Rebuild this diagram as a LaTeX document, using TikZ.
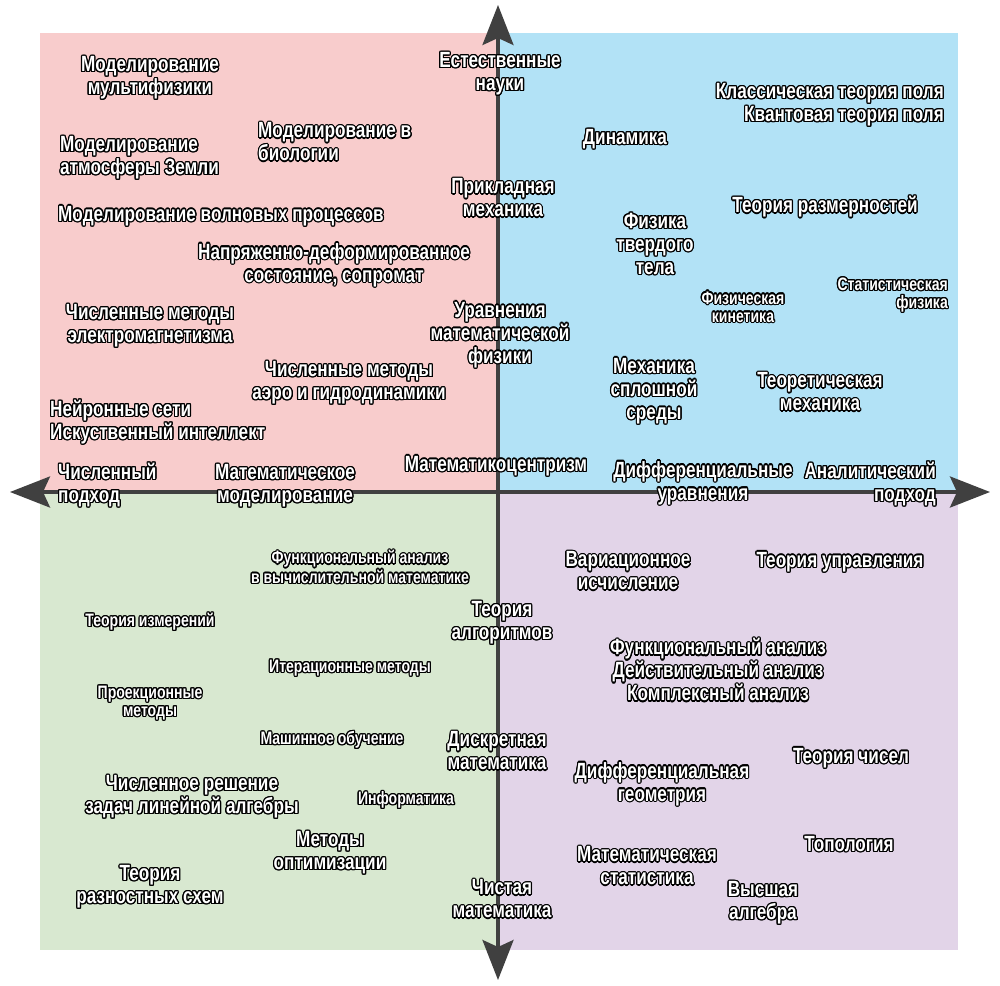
\documentclass[tikz,border=0pt]{standalone}
\usepackage{fontspec}
\newfontfamily\impf[FakeStretch=0.78]{Liberation Sans}
\usepackage{contour}
\contourlength{1.2pt}
\usetikzlibrary{arrows.meta}
\definecolor{qpink}{RGB}{248,204,204}
\definecolor{qblue}{RGB}{178,226,246}
\definecolor{qgreen}{RGB}{216,232,208}
\definecolor{qlav}{RGB}{226,212,232}
\definecolor{axisc}{RGB}{64,64,64}
\newcommand\olt[1]{\contour{black}{#1}}
\tikzset{
  lbl/.style={font=\impf\bfseries\fontsize{22}{23}\selectfont, text=white, inner sep=0pt, align=center, yshift=-2.5pt},
  sml/.style={lbl, font=\impf\bfseries\fontsize{18}{18}\selectfont},
  axisline/.style={draw=axisc, line width=3.5pt, -{Stealth[length=40pt,width=31pt,inset=7pt]}}
}
\begin{document}
\begin{tikzpicture}[x=1pt,y=-1pt]
\useasboundingbox (0,0) rectangle (1000,985);
\fill[white] (0,0) rectangle (1000,985);
\fill[qpink] (40,33) rectangle (498,492);
\fill[qblue] (498,33) rectangle (958,492);
\fill[qgreen] (40,492) rectangle (498,950);
\fill[qlav] (498,492) rectangle (958,950);
\coordinate (c) at (498,492);
\coordinate (top) at (498,5);
\coordinate (bot) at (498,980);
\coordinate (lft) at (10,492);
\coordinate (rgt) at (990,492);
\draw[axisline] (c) -- (top);
\draw[axisline] (c) -- (bot);
\draw[axisline] (c) -- (lft);
\draw[axisline] (c) -- (rgt);
% top-left
\node[lbl] (n1) at (150,76) {\olt{Моделирование}\\\olt{мультифизики}};
\node[lbl, anchor=west, align=left] (n2) at (60,156) {\olt{Моделирование}\\\olt{атмосферы Земли}};
\node[lbl, anchor=west, align=left] (n3) at (258,140) {\olt{Моделирование в}\\\olt{биологии}};
\node[lbl, anchor=west] (n4) at (58,214) {\olt{Моделирование волновых процессов}};
\node[lbl] (n5) at (334,263) {\olt{Напряженно-деформированное}\\\olt{состояние, сопромат}};
\node[lbl] (n6) at (150,324) {\olt{Численные методы}\\\olt{электромагнетизма}};
\node[lbl] (n7) at (349,381) {\olt{Численные методы}\\\olt{аэро и гидродинамики}};
\node[lbl, anchor=west, align=left] (n8) at (50,420) {\olt{Нейронные сети}\\\olt{Искуственный интеллект}};
\node[lbl, anchor=west, align=left] (n9) at (58,483) {\olt{Численный}\\\olt{подход}};
\node[lbl] (n10) at (285,484) {\olt{Математическое}\\\olt{моделирование}};
\node[lbl] (n11) at (500,72) {\olt{Естественные}\\\olt{науки}};
\node[lbl] (n12) at (503,196) {\olt{Прикладная}\\\olt{механика}};
\node[lbl] (n13) at (500,333) {\olt{Уравнения}\\\olt{математической}\\\olt{физики}};
\node[lbl] (n14) at (496,464) {\olt{Математикоцентризм}};
% top-right
\node[lbl, anchor=east, align=right] (n15) at (944,103) {\olt{Классическая теория поля}\\\olt{Квантовая теория поля}};
\node[lbl] (n16) at (625,137) {\olt{Динамика}};
\node[lbl] (n17) at (825,205) {\olt{Теория размерностей}};
\node[lbl] (n18) at (655,242) {\olt{Физика}\\\olt{твердого}\\\olt{тела}};
\node[sml] (n19) at (743,305) {\olt{Физическая}\\\olt{кинетика}};
\node[sml, anchor=east, align=right] (n20) at (948,293) {\olt{Статистическая}\\\olt{физика}};
\node[lbl] (n21) at (654,389) {\olt{Механика}\\\olt{сплошной}\\\olt{среды}};
\node[lbl] (n22) at (820,390) {\olt{Теоретическая}\\\olt{механика}};
\node[lbl] (n23) at (703,481) {\olt{Дифференциальные}\\\olt{уравнения}};
\node[lbl, anchor=east, align=right] (n24) at (936,482) {\olt{Аналитический}\\\olt{подход}};
% bottom-left
\node[sml] (n25) at (360,565) {\olt{Функциональный анализ}\\\olt{в вычислительной математике}};
\node[sml] (n26) at (150,620) {\olt{Теория измерений}};
\node[sml] (n27) at (350,666) {\olt{Итерационные методы}};
\node[sml] (n28) at (150,701) {\olt{Проекционные}\\\olt{методы}};
\node[sml] (n29) at (332,738) {\olt{Машинное обучение}};
\node[lbl] (n30) at (192,795) {\olt{Численное решение}\\\olt{задач линейной алгебры}};
\node[sml] (n31) at (406,798) {\olt{Информатика}};
\node[lbl] (n32) at (330,851) {\olt{Методы}\\\olt{оптимизации}};
\node[lbl] (n33) at (150,885) {\olt{Теория}\\\olt{разностных схем}};
\node[lbl] (n34) at (502,621) {\olt{Теория}\\\olt{алгоритмов}};
\node[lbl] (n35) at (497,749) {\olt{Дискретная}\\\olt{математика}};
\node[lbl] (n36) at (502,897) {\olt{Чистая}\\\olt{математика}};
% bottom-right
\node[lbl] (n37) at (628,569) {\olt{Вариационное}\\\olt{исчисление}};
\node[lbl] (n38) at (840,560) {\olt{Теория управления}};
\node[lbl] (n39) at (718,668) {\olt{Функциональный анализ}\\\olt{Действительный анализ}\\\olt{Комплексный анализ}};
\node[lbl] (n40) at (851,756) {\olt{Теория чисел}};
\node[lbl] (n41) at (662,782) {\olt{Дифференциальная}\\\olt{геометрия}};
\node[lbl] (n42) at (849,842) {\olt{Топология}};
\node[lbl] (n43) at (647,864) {\olt{Математическая}\\\olt{статистика}};
\node[lbl] (n44) at (763,901) {\olt{Высшая}\\\olt{алгебра}};
\end{tikzpicture}
\end{document}
